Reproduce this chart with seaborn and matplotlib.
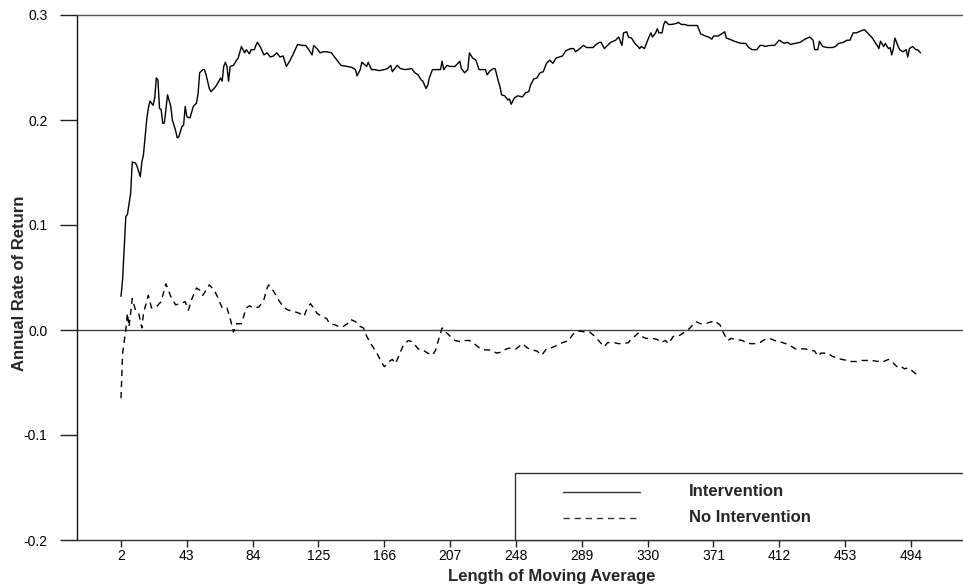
import numpy as np
import pandas as pd
import matplotlib
matplotlib.use("Agg")
import matplotlib.pyplot as plt
import seaborn as sns
from matplotlib.patches import Rectangle
from matplotlib.lines import Line2D

# ---------------- data ----------------
int_x = [2,3,5,6,8,9,11,12,14,15,16,18,19,20,22,23,24,25,26,27,28,29,31,33,34,36,37,38,40,41,42,43,
         45,47,49,50,51,53,54,55,57,58,60,61,63,64,65,66,67,68,69,70,72,74,75,77,78,79,80,82,83,85,86,87,89,
         91,93,95,97,99,101,103,105,107,109,112,115,117,119,121,122,124,126,128,130,133,135,137,139,143,146,
         148,149,151,152,155,156,158,160,163,166,168,170,171,174,176,179,183,185,187,189,190,192,193,194,196,
         199,201,202,203,205,207,210,213,214,216,218,219,221,223,225,227,229,230,232,234,235,237,238,239,241,
         243,244,245,247,249,252,254,256,257,259,261,263,265,267,269,271,273,277,279,282,284,285,287,290,292,
         296,298,300,301,303,305,307,310,312,314,315,317,318,320,322,324,325,326,328,330,332,333,335,336,337,
         339,340,341,343,345,348,349,351,353,355,357,361,363,366,368,370,371,374,376,378,379,381,384,388,391,
         393,395,398,400,402,403,406,409,412,415,417,419,422,425,428,431,433,434,436,437,439,442,445,447,449,
         452,454,456,458,460,463,465,467,470,472,473,474,475,477,478,480,481,482,483,484,486,487,489,491,492,
         493,495,497,498,500]
int_y = [0.032,0.048,0.108,0.110,0.130,0.160,0.159,0.156,0.146,0.160,0.167,0.200,0.211,0.218,0.214,0.221,
         0.240,0.238,0.211,0.210,0.197,0.197,0.224,0.213,0.200,0.190,0.183,0.184,0.194,0.195,0.213,0.203,
         0.202,0.213,0.216,0.225,0.245,0.248,0.248,0.243,0.230,0.227,0.230,0.232,0.237,0.240,0.237,0.251,
         0.255,0.251,0.237,0.251,0.252,0.257,0.259,0.270,0.267,0.264,0.267,0.263,0.267,0.267,0.271,0.274,0.269,
         0.262,0.264,0.260,0.261,0.264,0.260,0.261,0.251,0.256,0.262,0.272,0.271,0.271,0.267,0.262,0.271,
         0.268,0.264,0.265,0.265,0.264,0.260,0.256,0.252,0.251,0.250,
         0.248,0.242,0.248,0.255,0.251,0.255,0.248,0.248,0.247,0.248,0.249,0.252,0.246,0.252,0.249,0.248,
         0.249,0.245,0.243,0.238,0.237,0.230,0.233,0.240,0.248,
         0.248,0.248,0.256,0.248,0.252,0.251,0.251,0.256,0.249,0.245,0.248,0.264,0.259,0.257,0.248,0.248,
         0.248,0.243,0.247,0.249,0.249,0.237,0.232,0.224,0.223,
         0.219,0.220,0.215,0.221,0.223,0.222,0.226,0.227,0.233,0.239,0.240,0.245,0.246,0.254,0.257,0.254,
         0.259,0.261,0.266,0.268,0.268,0.265,0.267,0.271,0.269,
         0.269,0.272,0.274,0.274,0.268,0.271,0.274,0.276,0.279,0.271,0.283,0.284,0.279,0.278,0.273,0.270,
         0.268,0.270,0.268,0.276,0.283,0.279,0.283,0.287,0.283,
         0.283,0.291,0.294,0.291,0.291,0.292,0.293,0.291,0.291,0.290,0.290,0.290,0.282,0.280,0.279,0.277,
         0.280,0.280,0.282,0.284,0.278,0.277,0.275,0.273,0.273,
         0.269,0.267,0.267,0.271,0.271,0.270,0.271,0.271,0.276,0.273,0.274,0.272,0.273,0.274,0.277,0.279,
         0.276,0.267,0.267,0.275,0.270,0.269,0.269,0.270,0.273,
         0.274,0.276,0.276,0.283,0.283,0.285,0.286,0.283,0.278,0.273,0.271,0.268,0.275,0.270,0.273,0.268,
         0.269,0.262,0.268,0.278,0.270,0.267,0.265,0.267,0.260,
         0.268,0.270,0.267,0.267,0.264]

noint_x = [2,3,5,6,7,8,9,11,13,15,16,19,21,24,27,30,33,36,39,42,44,46,49,51,53,55,57,60,62,65,68,70,72,
           74,77,80,82,85,88,91,93,94,97,100,103,106,109,113,116,118,120,122,124,127,130,132,135,138,140,
           143,145,148,150,153,155,158,161,164,166,169,171,173,176,178,181,183,185,187,190,193,196,198,200,
           202,205,207,210,213,216,219,222,226,229,232,236,239,242,245,248,252,255,258,261,264,267,270,273,
           277,281,283,285,288,291,294,297,300,303,305,309,312,315,318,320,322,324,326,329,333,336,338,341,
           343,346,349,352,355,357,360,363,366,368,370,372,373,375,377,378,380,382,385,389,391,394,397,400,
           403,406,409,412,416,419,422,425,428,431,434,436,438,442,445,448,451,454,457,460,463,466,470,473,
           475,477,480,482,484,486,488,490,492,494,498]
noint_y = [-0.065,-0.022,0.000,0.016,0.003,0.016,0.030,0.019,0.016,0.002,0.016,0.033,0.021,0.022,0.027,
           0.044,0.032,0.024,0.025,0.027,0.019,0.029,0.040,0.038,0.033,0.038,0.043,0.038,0.032,0.021,0.021,
           0.011,-0.002,0.006,0.006,0.021,0.023,0.021,0.022,0.029,0.040,0.043,0.037,0.029,0.022,0.019,0.018,
           0.016,0.013,0.021,0.025,0.021,0.016,0.013,0.011,0.006,0.005,0.003,0.003,0.006,0.010,0.008,0.004,
           0.002,-0.006,-0.014,-0.021,-0.030,-0.035,-0.030,-0.028,-0.032,-0.021,-0.014,-0.010,-0.011,-0.014,
           -0.018,-0.019,-0.022,-0.024,-0.019,-0.008,0.002,-0.003,-0.006,-0.010,-0.011,-0.010,-0.010,-0.013,
           -0.018,-0.019,-0.019,-0.022,-0.021,-0.018,-0.017,-0.018,-0.013,-0.017,-0.019,-0.020,-0.024,-0.018,
           -0.017,-0.015,-0.012,-0.010,-0.005,-0.002,-0.001,-0.002,-0.002,-0.006,-0.011,-0.016,-0.012,-0.012,
           -0.013,-0.013,-0.012,-0.008,-0.006,-0.003,-0.006,-0.008,-0.008,-0.009,-0.012,-0.010,-0.013,-0.006,
           -0.006,-0.003,0.000,0.003,0.008,0.006,0.006,0.007,0.008,0.006,0.007,0.005,-0.002,-0.005,-0.010,
           -0.008,-0.009,-0.010,-0.012,-0.013,-0.013,-0.012,-0.009,-0.008,-0.010,-0.011,-0.013,-0.015,-0.018,
           -0.018,-0.018,-0.019,-0.020,-0.025,-0.022,-0.022,-0.025,-0.027,-0.028,-0.029,-0.030,-0.030,-0.029,
           -0.029,-0.029,-0.030,-0.029,-0.030,-0.028,-0.030,-0.033,-0.036,-0.035,-0.037,-0.036,-0.038,-0.043]

x_ticks = [2, 43, 84, 125, 166, 207, 248, 289, 330, 371, 412, 453, 494]
y_ticks = [-0.2, -0.1, 0.0, 0.1, 0.2, 0.3]
y_tick_labels = ["-0.2", "-0.1", "0.0", "0.1", "0.2", "0.3"]
series_names = ["Intervention", "No Intervention"]
x_title = "Length of Moving Average"
y_title = "Annual Rate of Return"

# ---------------- style ----------------
sns.set_theme(style="white")
plt.rcParams["font.family"] = ["Liberation Sans", "DejaVu Sans"]

W, H = 963, 588
fig = plt.figure(figsize=(W / 100, H / 100), dpi=100)
ax_l, ax_r, ax_t, ax_b = 77, 963, 15, 540
ax = fig.add_axes([ax_l / W, 1 - ax_b / H, (ax_r - ax_l) / W, (ax_b - ax_t) / H])

df_int = pd.DataFrame({"x": int_x, "y": int_y})
df_no = pd.DataFrame({"x": noint_x, "y": noint_y})

sns.lineplot(data=df_int, x="x", y="y", color="black", lw=1.0, ax=ax,
             estimator=None, sort=False)
sns.lineplot(data=df_no, x="x", y="y", color="black", lw=1.0, ax=ax,
             estimator=None, sort=False)
ax.lines[-1].set_dashes([4.5, 3.5])

ax.axhline(0.0, color="#444444", lw=1.0, zorder=1)

# x-range: px 77 -> about -25.4, px 963 -> about 526.4
ax.set_xlim(-25.4, 526.4)
ax.set_ylim(-0.2, 0.3)

ax.set_xticks(x_ticks)
ax.set_xticklabels([str(v) for v in x_ticks])
ax.set_yticks(y_ticks)
ax.set_yticklabels(y_tick_labels)

ax.tick_params(axis="y", left=True, direction="out", length=12.2, width=1.0,
               pad=9, labelsize=10, colors="#222222", labelcolor="black")
ax.tick_params(axis="x", bottom=True, direction="out", length=5, width=1.0,
               pad=1.2, labelsize=10, colors="#222222", labelcolor="black")

for side in ["left", "bottom", "top"]:
    ax.spines[side].set_visible(True)
    ax.spines[side].set_linewidth(1.0)
ax.spines["left"].set_color("#111111")
ax.spines["bottom"].set_color("#333333")
ax.spines["top"].set_color("#555555")
ax.spines["right"].set_visible(False)

ax.set_xlabel("")
ax.set_ylabel("")
fig.text(552 / W, 1 - 577 / H, x_title, ha="center", va="center",
         fontsize=12, fontweight="bold")
fig.text(19 / W, 1 - 283 / H, y_title, ha="center", va="center",
         rotation=90, fontsize=12, fontweight="bold")

# ---------------- legend box ----------------
def ax_x(px):
    return (px - ax_l) / (ax_r - ax_l)

def ax_y(py):
    return (ax_b - py) / (ax_b - ax_t)

rect = Rectangle((ax_x(515), 0.0), 0.8, ax_y(473), transform=ax.transAxes,
                 fill=True, facecolor="white", edgecolor="#333333", lw=1.0,
                 clip_on=False, zorder=5)
ax.add_patch(rect)
l1 = Line2D([ax_x(563), ax_x(640)], [ax_y(492), ax_y(492)], transform=ax.transAxes,
            color="#333333", lw=1.0, zorder=6)
l2 = Line2D([ax_x(563), ax_x(640)], [ax_y(518), ax_y(518)], transform=ax.transAxes,
            color="#333333", lw=1.0, zorder=6, dashes=[4.5, 3.5])
ax.add_line(l1)
ax.add_line(l2)
ax.text(ax_x(689), ax_y(491), series_names[0], transform=ax.transAxes,
        ha="left", va="center", fontsize=12, fontweight="bold", zorder=7)
ax.text(ax_x(689), ax_y(517), series_names[1], transform=ax.transAxes,
        ha="left", va="center", fontsize=12, fontweight="bold", zorder=7)

fig.savefig("out.png", dpi=100)
